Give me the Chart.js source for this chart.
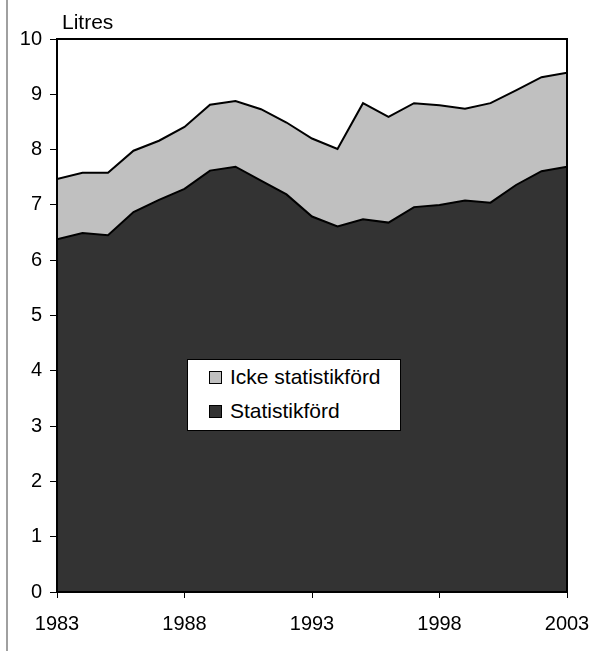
<!DOCTYPE html>
<html>
<head>
<meta charset="utf-8">
<script src="https://cdn.jsdelivr.net/npm/chart.js@4/dist/chart.umd.min.js"></script>
<style>
  body { margin: 0; background: #fff; }
  #wrap { position: relative; width: 593px; height: 651px; }
  #legend {
    position: absolute; left: 187px; top: 359px; width: 212px; height: 70px;
    border: 1px solid #000; background: #fff;
    font-family: "Liberation Sans", Arial, sans-serif; font-size: 21px; color: #000;
  }
  .item { position: absolute; left: 21px; height: 24px; line-height: 24px; white-space: nowrap; }
  .item span { display: inline-block; width: 11px; height: 11px; border: 1px solid #000; margin-right: 8px; vertical-align: 0px; }
</style>
</head>
<body>
<div id="wrap">
  <canvas id="chart" width="593" height="651"></canvas>
  <div id="legend">
    <div class="item" style="top:5px"><span style="background:#c0c0c0"></span>Icke statistikförd</div>
    <div class="item" style="top:39px"><span style="background:#333333"></span>Statistikförd</div>
  </div>
</div>
<script>
const years = [1983, 1984, 1985, 1986, 1987, 1988, 1989, 1990, 1991, 1992, 1993,
               1994, 1995, 1996, 1997, 1998, 1999, 2000, 2001, 2002, 2003];
// recorded consumption (bottom layer)
const statistikford = [6.38, 6.49, 6.45, 6.87, 7.09, 7.29, 7.62, 7.69, 7.44, 7.19, 6.79,
                       6.61, 6.74, 6.68, 6.96, 7.00, 7.08, 7.04, 7.36, 7.61, 7.69];
// total consumption (top line)
const totalt = [7.47, 7.58, 7.58, 7.98, 8.16, 8.41, 8.81, 8.88, 8.73, 8.49, 8.20,
                8.01, 8.84, 8.59, 8.84, 8.80, 8.74, 8.84, 9.07, 9.31, 9.39];
const ickeStatistikford = totalt.map((t, i) => +(t - statistikford[i]).toFixed(2));
const yTicks = [0, 1, 2, 3, 4, 5, 6, 7, 8, 9, 10];
const xTicks = [1983, 1988, 1993, 1998, 2003];

const font = { family: '"Liberation Sans", Arial, sans-serif', size: 20 };

const frame = {
  id: 'frame',
  beforeDraw(chart) {
    const c = chart.ctx;
    c.save();
    c.fillStyle = '#a0a0a0';
    c.fillRect(6, 0, 2, chart.height);
    c.restore();
  },
  afterDatasetsDraw(chart) {
    const { ctx: c, chartArea: a } = chart;
    c.save();
    c.strokeStyle = '#000';
    c.lineWidth = 2;
    c.strokeRect(a.left, a.top, a.right - a.left, a.bottom - a.top);
    c.fillStyle = '#000';
    c.font = '21px "Liberation Sans", Arial, sans-serif';
    c.textBaseline = 'alphabetic';
    c.fillText('Litres', 62, 29);
    c.restore();
  }
};

new Chart(document.getElementById('chart'), {
  type: 'line',
  data: {
    datasets: [
      {
        label: 'Statistikförd',
        data: years.map((y, i) => ({ x: y, y: statistikford[i] })),
        backgroundColor: '#333333',
        borderColor: '#000',
        borderWidth: 2,
        pointRadius: 0,
        tension: 0,
        fill: 'origin'
      },
      {
        label: 'Icke statistikförd',
        data: years.map((y, i) => ({ x: y, y: ickeStatistikford[i] })),
        backgroundColor: '#c0c0c0',
        borderColor: '#000',
        borderWidth: 2,
        pointRadius: 0,
        tension: 0,
        fill: '-1'
      }
    ]
  },
  options: {
    responsive: false,
    animation: false,
    layout: { padding: { top: 39, right: 26, left: 0, bottom: 0 } },
    plugins: { legend: { display: false }, tooltip: { enabled: false } },
    scales: {
      x: {
        type: 'linear',
        min: 1983, max: 2003,
        afterFit: s => { s.height = 59; s.paddingLeft = 0; s.paddingRight = 0; },
        afterBuildTicks: s => { s.ticks = xTicks.map(v => ({ value: v })); },
        grid: { drawOnChartArea: false, drawTicks: true, tickLength: 6, color: '#000', lineWidth: 1 },
        border: { display: true, color: '#000', width: 2 },
        ticks: { font, color: '#000', padding: 14, maxRotation: 0, callback: v => String(v) }
      },
      y: {
        stacked: true,
        min: 0, max: 10,
        afterFit: s => { s.width = 57; s.paddingTop = 0; s.paddingBottom = 0; },
        afterBuildTicks: s => { s.ticks = yTicks.map(v => ({ value: v })); },
        grid: { drawOnChartArea: false, drawTicks: true, tickLength: 7, color: '#000', lineWidth: 1 },
        border: { display: true, color: '#000', width: 2 },
        ticks: { font, color: '#000', padding: 8 }
      }
    }
  },
  plugins: [frame]
});
</script>
</body>
</html>
